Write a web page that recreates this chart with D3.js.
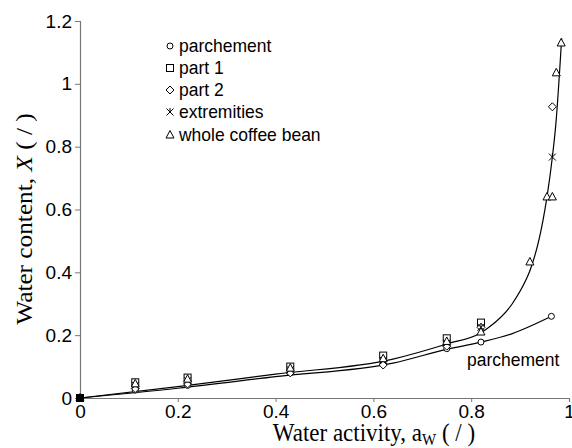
<!DOCTYPE html>
<html>
<head>
<meta charset="utf-8">
<script src="https://cdn.jsdelivr.net/npm/d3@7"></script>
<style>
  body { margin: 0; background: #fff; }
  svg { display: block; }
</style>
</head>
<body>
<svg id="chart"></svg>
<script>
// measured points (water activity / water content)
const awLow = [0, 0.113, 0.22, 0.43, 0.62, 0.75, 0.82];
const parchement = [0, 0.025, 0.04, 0.08, 0.11, 0.157, 0.178];
const part1 = [0, 0.05, 0.065, 0.1, 0.135, 0.19, 0.24];
const part2 = [0, 0.03, 0.045, 0.08, 0.105, 0.165, 0.225];
const extremities = [0, 0.04, 0.055, 0.09, 0.12, 0.175, 0.225];
const wholeBean = [0, 0.045, 0.06, 0.095, 0.125, 0.18, 0.21];

// extra points at high water activity
const parchementHigh = [[0.964, 0.26]];
const part2High = [[0.966, 0.927]];
const extremitiesHigh = [[0.966, 0.767]];
const wholeBeanHigh = [[0.92, 0.433], [0.955, 0.64], [0.966, 0.64], [0.974, 1.035], [0.984, 1.13]];

// fitted curves
const fitParchAw = [0, 0.2, 0.4, 0.64, 0.75, 0.82, 0.884, 0.964];
const fitParchX = [0, 0.031, 0.068, 0.111, 0.155, 0.178, 0.205, 0.26];
const fitBeanAw = [0, 0.2, 0.4, 0.64, 0.75, 0.82, 0.837, 0.884, 0.912, 0.92, 0.947, 0.955, 0.966, 0.973, 0.985];
const fitBeanX = [0, 0.036, 0.076, 0.124, 0.172, 0.208, 0.226, 0.3, 0.376, 0.405, 0.567, 0.64, 0.767, 0.87, 1.145];

const xTicks = [0, 0.2, 0.4, 0.6, 0.8, 1];
const yTicks = [0, 0.2, 0.4, 0.6, 0.8, 1, 1.2];

const width = 572, height = 448;
const svg = d3.select("#chart").attr("width", width).attr("height", height);

const x = d3.scaleLinear().domain([0, 1]).range([80, 569]);
const y = d3.scaleLinear().domain([0, 1.2]).range([398, 21]);

const sans = "'Liberation Sans', Arial, sans-serif";
const serif = "'Liberation Serif', 'Times New Roman', serif";

// axes
const xAxis = svg.append("g")
   .attr("transform", `translate(0,${y(0)})`)
   .call(d3.axisBottom(x).tickValues(xTicks).tickSize(4).tickPadding(3).tickFormat(d3.format("~g")));
const yAxis = svg.append("g")
   .attr("transform", `translate(${x(0)},0)`)
   .call(d3.axisLeft(y).tickValues(yTicks).tickSize(5).tickPadding(3).tickFormat(d3.format("~g")));

[xAxis, yAxis].forEach(g => {
    g.select(".domain").attr("stroke", "#777").attr("stroke-width", 1.2);
    g.selectAll(".tick line").attr("stroke", "#777");
    g.selectAll("text").style("font-family", sans).style("font-size", "19px").attr("fill", "#000");
});

// fitted lines
const line = d3.line().x(d => x(d[0])).y(d => y(d[1])).curve(d3.curveMonotoneX);
svg.append("path")
   .datum(fitParchAw.map((a, i) => [a, fitParchX[i]]))
   .attr("d", line).attr("fill", "none").attr("stroke", "#000").attr("stroke-width", 1.2);
svg.append("path")
   .datum(fitBeanAw.map((a, i) => [a, fitBeanX[i]]))
   .attr("d", line).attr("fill", "none").attr("stroke", "#000").attr("stroke-width", 1.2);

// marker shapes
function drawMarker(g, type, cx, cy) {
    const s = g.append("g").attr("transform", `translate(${cx},${cy})`)
       .attr("fill", "none").attr("stroke", "#000").attr("stroke-width", 1);
    if (type === "circle") {
        s.append("circle").attr("r", 3).attr("fill", "#fff");
    } else if (type === "square") {
        s.append("rect").attr("x", -3.5).attr("y", -3.5).attr("width", 7).attr("height", 7).attr("fill", "#fff");
    } else if (type === "diamond") {
        s.append("path").attr("d", "M0,-4L4,0L0,4L-4,0Z").attr("fill", "#fff");
    } else if (type === "star") {
        s.append("path").attr("d", "M-3.5,-3.5L3.5,3.5M3.5,-3.5L-3.5,3.5M0,-4L0,0");
    } else if (type === "triangle") {
        s.append("path").attr("d", "M0,-4.5L4,3L-4,3Z").attr("fill", "#fff");
    }
}

const series = [
    { name: "parchement", type: "circle", vals: parchement, high: parchementHigh },
    { name: "part 1", type: "square", vals: part1, high: [] },
    { name: "part 2", type: "diamond", vals: part2, high: part2High },
    { name: "extremities", type: "star", vals: extremities, high: extremitiesHigh },
    { name: "whole coffee bean", type: "triangle", vals: wholeBean, high: wholeBeanHigh }
];

const marks = svg.append("g");
series.forEach(s => {
    const pts = awLow.map((a, i) => [a, s.vals[i]]).concat(s.high);
    pts.forEach(p => drawMarker(marks, s.type, x(p[0]), y(p[1])));
});
// origin drawn as a filled block
marks.append("rect").attr("x", x(0) - 3.5).attr("y", y(0) - 3.5).attr("width", 7).attr("height", 7).attr("fill", "#000");

// legend
const legendY = [46, 68, 90, 112, 135];
series.forEach((s, i) => {
    drawMarker(svg, s.type, 170, legendY[i]);
    svg.append("text")
       .attr("transform", `translate(179,${legendY[i] + 6}) scale(1,1.1)`)
       .style("font-family", sans).style("font-size", "17.5px")
       .text(s.name);
});

// curve label
svg.append("text")
   .attr("transform", `translate(467,366) scale(1,1.1)`)
   .style("font-family", sans).style("font-size", "17.5px")
   .text("parchement");

// axis titles
const xt = svg.append("text")
   .attr("transform", `translate(374,441) scale(1,1.12)`)
   .attr("text-anchor", "middle")
   .style("font-family", serif).style("font-size", "23px");
xt.append("tspan").text("Water activity, a");
xt.append("tspan").attr("dy", 4).style("font-size", "15px").text("W");
xt.append("tspan").attr("dy", -4).text(" ( / )");

const yt = svg.append("text")
   .attr("transform", `translate(32,219) rotate(-90) scale(1.1,1)`)
   .attr("text-anchor", "middle")
   .style("font-family", serif).style("font-size", "23px");
yt.append("tspan").text("Water content, ");
yt.append("tspan").style("font-style", "italic").text("X");
yt.append("tspan").text(" ( / )");
</script>
</body>
</html>
